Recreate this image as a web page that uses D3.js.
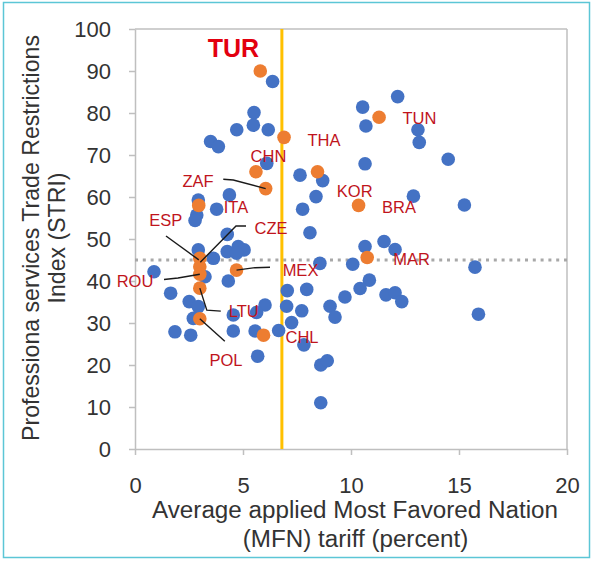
<!DOCTYPE html>
<html><head><meta charset="utf-8">
<script src="https://cdn.jsdelivr.net/npm/d3@7"></script>
<style>body{margin:0;background:#fff;} svg{display:block;}</style>
</head><body>
<script>
// ---- data ----
const otherTariff = [6.37,5.51,5.48,4.71,6.17,3.5,3.86,6.1,7.64,8.69,10.54,10.69,12.16,13.1,13.16,14.5,10.65,8.38,12.89,15.25,7.76,8.1,10.65,11.53,12.04,10.08,8.56,15.74,10.85,10.42,9.72,7.05,7.95,7.02,7.72,7.25,6.65,7.82,9.03,9.26,11.62,12.04,12.35,15.9,8.6,8.9,8.6,4.37,2.93,3.78,2.86,2.78,4.27,2.93,4.27,4.78,5.05,4.7,3.63,3.24,0.88,4.32,1.65,2.51,2.93,2.7,1.85,2.58,4.55,4.55,6.02,5.63,5.56,5.68];
const otherSTRI   = [87.5,80.1,77.1,76,76,73.2,72,68,65.2,63.9,81.4,76.9,83.9,76,73,69,67.9,60.1,60.2,58.1,57.1,51.5,48.2,49.4,47.5,44.0,44.2,43.3,40.2,38.2,36.2,37.7,38,34,32.9,30.1,28.2,24.8,34,31.4,36.7,37.2,35.1,32.1,20,21,11,60.5,59.3,57.1,55.7,54.4,51.1,47.4,47,48.2,47.4,46.6,45.4,41,42.2,40,37.1,35.1,33.9,31.1,27.9,27.1,31.9,28.1,34.3,32.5,28.1,22.1];

const hlCountries = ["TUR","THA","TUN","CHN","KOR","ZAF","BRA","ITA","ESP","CZE","ROU","LTU","POL","MEX","MAR","CHL"];
const hlTariff    = [5.8,6.9,11.3,5.6,8.45,6.05,10.35,2.95,3.0,3.0,3.0,3.0,3.0,4.7,10.75,5.95];
const hlSTRI      = [90,74.2,79,66,66,62,58,58,45.4,43.4,41.6,38.3,31,42.6,45.6,27.1];

const xTicks = [0,5,10,15,20];
const yTicks = [0,10,20,30,40,50,60,70,80,90,100];
const turTariffLine = 6.8;
const avgSTRILine = 45;

// ---- layout (pixel offsets of labels / leader lines from their point) ----
const labelLayout = {
  TUR:{dx:-26.8,dy:-14.3}, THA:{dx:40,dy:8.6}, TUN:{dx:40.4,dy:7.1}, CHN:{dx:12.5,dy:-9.8},
  KOR:{dx:37.2,dy:24.9}, ZAF:{dx:-67.7,dy:-1.6}, BRA:{dx:40.4,dy:7.6}, ITA:{dx:37.3,dy:7.9},
  ESP:{dx:-34,dy:-32.3}, CZE:{dx:71.2,dy:-32.7}, ROU:{dx:-64.8,dy:12.4}, LTU:{dx:44,dy:28.6},
  POL:{dx:26.2,dy:47.2}, MEX:{dx:64,dy:5.9}, MAR:{dx:44.5,dy:7.5}, CHL:{dx:38.5,dy:8.1}
};
const leaders = {
  ZAF:[[-42.4,-9.3],[-32.4,-8.6],[0,0]],
  ESP:[[-33.8,-22.3],[-1,1.5]],
  CZE:[[46.2,-40.7],[36.2,-40.7],[0.5,-4.5]],
  ROU:[[-35.8,5.2],[-21.8,3.7],[0,0]],
  LTU:[[0,0],[7,22],[21,23]],
  POL:[[0,0],[25,22.5]],
  MEX:[[0,0],[18.5,-2.4],[33.5,-2.8]]
};

const W = 593, H = 561;
const svg = d3.select("body").append("svg").attr("width",W).attr("height",H);
svg.append("rect").attr("x",0).attr("y",0).attr("width",W).attr("height",H).attr("fill","#fff");
// outer frame
svg.append("rect").attr("x",3.5).attr("y",2.5).attr("width",586).attr("height",555)
  .attr("fill","none").attr("stroke","#5cc6d6").attr("stroke-width",1.5);

const x = d3.scaleLinear().domain([0,20]).range([135,567]);
const y = d3.scaleLinear().domain([0,100]).range([449,29]);
const axisColor = "#bfbfbf";
const textColor = "#333";
const font = "'Liberation Sans', Arial, sans-serif";

// plot frame (top & right)
svg.append("line").attr("x1",x(0)).attr("x2",x(20)).attr("y1",y(100)).attr("y2",y(100)).attr("stroke",axisColor).attr("stroke-width",1.5);
svg.append("line").attr("x1",x(20)).attr("x2",x(20)).attr("y1",y(100)).attr("y2",y(0)).attr("stroke",axisColor).attr("stroke-width",1.5);

// axes
const gy = svg.append("g").attr("transform",`translate(${x(0)},0)`)
  .call(d3.axisLeft(y).tickValues(yTicks).tickSizeInner(6).tickSizeOuter(0).tickPadding(18));
const gx = svg.append("g").attr("transform",`translate(0,${y(0)})`)
  .call(d3.axisBottom(x).tickValues(xTicks).tickSizeInner(6).tickSizeOuter(0).tickPadding(22));
[gx,gy].forEach(g=>{
  g.select(".domain").attr("stroke",axisColor).attr("stroke-width",1.5);
  g.selectAll(".tick line").attr("stroke",axisColor).attr("stroke-width",1.5);
  g.selectAll(".tick text").attr("fill",textColor).style("font-family",font).style("font-size","22px");
});
gx.selectAll(".tick text").attr("dy",null).attr("y",44);
gy.selectAll(".tick text").attr("dy","0.36em");

// reference lines
svg.append("line").attr("x1",x(0)).attr("x2",x(20)).attr("y1",y(avgSTRILine)).attr("y2",y(avgSTRILine))
  .attr("stroke","#a8a8a8").attr("stroke-width",3).attr("stroke-dasharray","3,4.8");
svg.append("line").attr("x1",x(turTariffLine)).attr("x2",x(turTariffLine)).attr("y1",y(100)).attr("y2",y(0))
  .attr("stroke","#ffc000").attr("stroke-width",3);

// points
const others = otherTariff.map((t,i)=>({t, s:otherSTRI[i]}));
svg.append("g").selectAll("circle").data(others).join("circle")
  .attr("cx",d=>x(d.t)).attr("cy",d=>y(d.s)).attr("r",6.8).attr("fill","#4472c4");
const hl = hlCountries.map((c,i)=>({c, t:hlTariff[i], s:hlSTRI[i]}));
svg.append("g").selectAll("circle").data(hl).join("circle")
  .attr("cx",d=>x(d.t)).attr("cy",d=>y(d.s)).attr("r",6.8).attr("fill","#ed7d31");

// leader lines
const lineGen = d3.line();
hl.forEach(d=>{
  const L = leaders[d.c]; if(!L) return;
  const px = x(d.t), py = y(d.s);
  svg.append("path").attr("d", lineGen(L.map(p=>[px+p[0],py+p[1]])))
    .attr("fill","none").attr("stroke","#1a1a1a").attr("stroke-width",1.4);
});

// labels
hl.forEach(d=>{
  const o = labelLayout[d.c];
  const isTur = d.c==="TUR";
  svg.append("text").attr("x",x(d.t)+o.dx).attr("y",y(d.s)+o.dy)
    .attr("text-anchor","middle").attr("fill", isTur?"#e3000f":"#c0141c")
    .style("font-family",font).style("font-size", isTur?"25px":"16.5px")
    .style("font-weight", isTur?"bold":"normal").text(d.c);
});

// axis titles
function fitText(sel, width){
  const w = sel.node().getComputedTextLength();
  const fs = parseFloat(sel.style("font-size"));
  sel.style("font-size", (fs*width/w).toFixed(2)+"px");
}
const xt1 = svg.append("text").attr("x",355).attr("y",518).attr("text-anchor","middle").attr("fill",textColor)
  .style("font-family",font).style("font-size","23px").text("Average applied Most Favored Nation");
fitText(xt1,406);
const xt2 = svg.append("text").attr("x",355.5).attr("y",547).attr("text-anchor","middle").attr("fill",textColor)
  .style("font-family",font).style("font-size",xt1.style("font-size")).text("(MFN) tariff (percent)");

const yt1 = svg.append("text").attr("transform","translate(39,238) rotate(-90)").attr("text-anchor","middle").attr("fill",textColor)
  .style("font-family",font).style("font-size","23px").text("Professiona services Trade Restrictions");
fitText(yt1,406);
svg.append("text").attr("transform","translate(65,238) rotate(-90)").attr("text-anchor","middle").attr("fill",textColor)
  .style("font-family",font).style("font-size",yt1.style("font-size")).text("Index (STRI)");
</script>
</body></html>
